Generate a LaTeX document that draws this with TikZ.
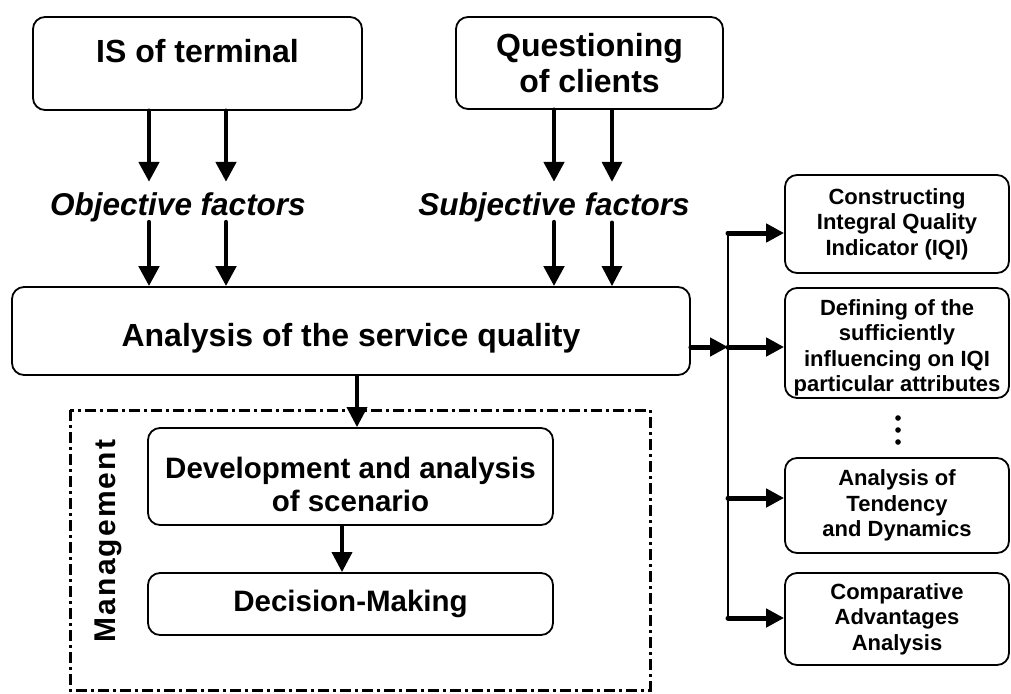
\documentclass[tikz,border=0pt]{standalone}
\usepackage{fontspec}
\setmainfont{Liberation Sans}
\usetikzlibrary{arrows.meta}
\begin{document}
\begin{tikzpicture}[x=1pt,y=-1pt,
  box/.style={draw, line width=1.8pt, rounded corners=12pt, align=center, inner sep=0pt},
  big/.style={font=\fontsize{32}{36}\selectfont\bfseries},
  mid/.style={font=\fontsize{29.5}{33}\selectfont\bfseries},
  small/.style={font=\fontsize{22}{25.5}\selectfont\bfseries},
  arr/.style={line width=4.8pt, line cap=round, -{Triangle[length=20pt,width=20pt]}},
  thinarr/.style={line width=3.4pt, line cap=round, -{Triangle[length=20pt,width=20pt]}},
  brarr/.style={line width=5pt, line cap=round, -{Triangle[length=18pt,width=18pt]}},
  factor/.style={font=\fontsize{31.5}{36}\selectfont\bfseries\itshape, text height=28pt, text depth=2pt, inner xsep=0pt, inner ysep=5pt}
]
\useasboundingbox (0,0) rectangle (1011,693);

% top boxes
\node[box, big, minimum width=329pt, minimum height=93pt, text height=23pt, text depth=24pt] (is) at (197.5,63.5) {IS of terminal};
\node[box, big, minimum width=267pt, minimum height=92pt] (qc) at (589.5,63) {Questioning\\of clients};

% factor labels
\node[factor] (obj) at (178,202) {Objective factors};
\node[factor] (subj) at (554,202) {Subjective factors};

% analysis box
\node[box, big, minimum width=678pt, minimum height=88pt, text height=30pt, text depth=0pt] (ana) at (351,331) {Analysis of the service quality};

% management frame
\draw[line width=3pt, dash pattern=on 11pt off 4pt on 3pt off 4pt] (70,410) rectangle (650,690);
\node[rotate=90, font=\fontsize{30}{32}\selectfont\bfseries\addfontfeature{LetterSpace=7}] (mgmt) at (108,541) {Management};

\node[box, mid, minimum width=405pt, minimum height=97pt, text height=40pt, text depth=37pt] (dev) at (350.5,476.5) {\begin{tabular}[t]{@{}c@{}}Development and analysis\\of scenario\end{tabular}};
\node[box, mid, minimum width=405pt, minimum height=62pt] (dec) at (350.5,604) {Decision-Making};

% right boxes
\node[box, small, minimum width=224pt, minimum height=98pt] (cons) at (897,224) {Constructing\\Integral Quality\\Indicator (IQI)};
\node[box, small, minimum width=224pt, minimum height=110pt, text height=20pt, text depth=76pt] (def) at (897,343) {\begin{tabular}[t]{@{}c@{}}Defining of the\\sufficiently\\influencing on IQI\\particular attributes\end{tabular}};
\node[box, small, minimum width=224pt, minimum height=95pt] (tend) at (897,505.5) {Analysis of\\Tendency\\and Dynamics};
\node[box, small, minimum width=224pt, minimum height=92pt] (comp) at (897,619) {Comparative\\Advantages\\Analysis};

% dots
\fill (898,418) circle (2.8pt);
\fill (898,430) circle (2.8pt);
\fill (898,442) circle (2.8pt);

% x positions of the top arrows
\coordinate (xa) at (149,0);
\coordinate (xb) at (226,0);
\coordinate (xc) at (554,0);
\coordinate (xd) at (612,0);

\draw[arr] (is.south -| xa) -- (obj.north -| xa);
\draw[arr] (is.south -| xb) -- (obj.north -| xb);
\draw[arr] (obj.south -| xa) -- (ana.north -| xa);
\draw[arr] (obj.south -| xb) -- (ana.north -| xb);

\draw[arr] (qc.south -| xc) -- (subj.north -| xc);
\draw[thinarr] (qc.south -| xd) -- (subj.north -| xd);
\draw[arr] (subj.south -| xc) -- (ana.north -| xc);
\draw[thinarr] (subj.south -| xd) -- (ana.north -| xd);

% down arrows
\coordinate (xe) at (357,0);
\coordinate (xf) at (342,0);
\draw[thinarr, line width=3.6pt] (ana.south -| xe) -- (dev.north -| xe);
\draw[thinarr, line width=3.6pt] (dev.south -| xf) -- (dec.north -| xf);

% right side distribution
\coordinate (vtop) at (728,233);
\coordinate (vmid) at (728,347);
\coordinate (vt) at (728,498);
\coordinate (vbot) at (728,618);
\draw[line width=2.5pt] (vtop) -- (vbot);
\draw[brarr] (ana.east |- vmid) -- (vmid);
\draw[brarr] (vtop) -- (vtop -| cons.west);
\draw[brarr] (vmid) -- (vmid -| def.west);
\draw[brarr] (vt) -- (vt -| tend.west);
\draw[brarr] (vbot) -- (vbot -| comp.west);
\end{tikzpicture}
\end{document}
